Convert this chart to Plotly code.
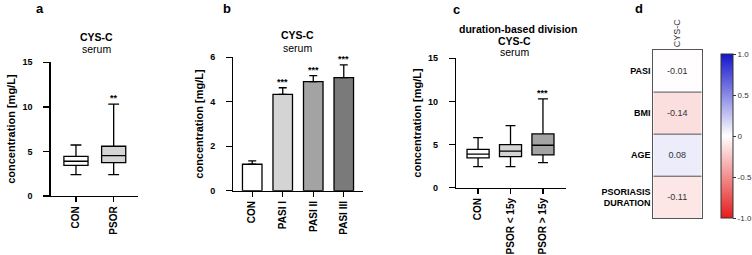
import plotly.graph_objects as go

W, H = 752, 255


def px(x):
    return x / W


def py(y):
    return 1 - y / H


# ---------------- data ----------------
# panel a: box plots (CYS-C serum)
a_groups = ["CON", "PSOR"]
a_min = [2.4, 2.4]
a_q1 = [3.44, 3.74]
a_med = [3.9, 4.52]
a_q3 = [4.45, 5.58]
a_max = [5.72, 10.3]
a_sig = ["", "**"]

# panel b: bar chart (mean + error)
b_groups = ["CON", "PASI I", "PASI II", "PASI III"]
b_mean = [1.19, 4.33, 4.91, 5.09]
b_err = [0.15, 0.30, 0.27, 0.57]
b_sig = ["", "***", "***", "***"]

# panel c: duration-based division box plots
c_groups = ["CON", "PSOR < 15y", "PSOR > 15y"]
c_min = [2.44, 2.44, 2.9]
c_q1 = [3.45, 3.6, 3.8]
c_med = [3.9, 4.25, 4.92]
c_q3 = [4.45, 5.0, 6.23]
c_max = [5.8, 7.2, 10.3]
c_sig = ["", "", "***"]

# panel d: correlation heatmap
d_rows = ["PASI", "BMI", "AGE", "PSORIASIS<br>DURATION"]
d_col = ["CYS-C"]
d_r = [-0.01, -0.14, 0.08, -0.11]
cb_vals = [-1, -0.5, 0, 0.5, 1]
cb_text = ["-1.0", "-0.5", "0", "0.5", "1.0"]

a_fill = ["#ffffff", "#d4d4d4"]
b_fill = ["#ffffff", "#d4d4d4", "#a3a3a3", "#7a7a7a"]
c_fill = ["#ffffff", "#d4d4d4", "#a3a3a3"]

FONT = "Liberation Sans, Arial, sans-serif"
LW = 1.3

fig = go.Figure()

# ---------- panel a ----------
for i, g in enumerate(a_groups):
    fig.add_trace(go.Box(
        x=[i], q1=[a_q1[i]], median=[a_med[i]], q3=[a_q3[i]],
        lowerfence=[a_min[i]], upperfence=[a_max[i]],
        width=0.64, whiskerwidth=0.45, fillcolor=a_fill[i],
        line=dict(color="black", width=LW), boxpoints=False,
        xaxis="x", yaxis="y", showlegend=False, hoverinfo="skip"))

# ---------- panel b ----------
fig.add_trace(go.Bar(
    x=list(range(len(b_groups))), y=b_mean, width=0.64,
    marker=dict(color=b_fill, line=dict(color="black", width=LW)),
    error_y=dict(type="data", array=b_err, arrayminus=[0] * len(b_err),
                 symmetric=False, color="black", thickness=LW, width=4),
    xaxis="x2", yaxis="y2", showlegend=False, hoverinfo="skip"))

# ---------- panel c ----------
for i, g in enumerate(c_groups):
    fig.add_trace(go.Box(
        x=[i], q1=[c_q1[i]], median=[c_med[i]], q3=[c_q3[i]],
        lowerfence=[c_min[i]], upperfence=[c_max[i]],
        width=0.68, whiskerwidth=0.45, fillcolor=c_fill[i],
        line=dict(color="black", width=LW), boxpoints=False,
        xaxis="x3", yaxis="y3", showlegend=False, hoverinfo="skip"))

# ---------- panel d ----------
fig.add_trace(go.Heatmap(
    z=[[v] for v in d_r], x=[0], y=list(range(len(d_rows))),
    zmin=-1, zmax=1,
    colorscale=[[0, "#e41c1c"], [0.5, "#ffffff"], [1, "#1414cc"]],
    texttemplate="%{z:.2f}", textfont=dict(size=9, color="#333333", family=FONT),
    xaxis="x4", yaxis="y4", hoverinfo="skip",
    colorbar=dict(
        x=px(721), xanchor="left", xpad=0, ypad=0,
        y=py(218.3), yanchor="bottom", len=(218.3 - 54.3) / H, lenmode="fraction",
        thickness=11.5, thicknessmode="pixels",
        outlinewidth=1, outlinecolor="#333333",
        tickvals=cb_vals, ticktext=cb_text, ticks="outside", ticklen=3,
        tickcolor="#333333", tickfont=dict(size=8, color="#333333", family=FONT),
    )))

for i in range(len(d_rows) - 1):
    fig.add_shape(type="line", xref="x4", yref="y4", x0=-0.5, x1=0.5,
                  y0=i + 0.5, y1=i + 0.5, line=dict(color="#555555", width=1))

# ---------- axes ----------
tickfont_b = dict(size=10, family=FONT, color="black", weight="bold")
numfont = dict(size=9, family=FONT, color="black", weight="bold")


def xax(domain, rng, groups):
    return dict(domain=domain, range=rng, tickvals=list(range(len(groups))),
                ticktext=groups, tickangle=-90, showline=True, linecolor="black",
                linewidth=LW, ticks="outside", ticklen=5, tickwidth=LW,
                tickcolor="black", showgrid=False, zeroline=False,
                tickfont=tickfont_b, fixedrange=True, automargin=False)


def yax(domain, rng, tv, anchor):
    return dict(domain=domain, range=rng, tickvals=tv, ticktext=[str(t) for t in tv],
                showline=True, linecolor="black", linewidth=LW, ticks="outside",
                ticklen=6, tickwidth=LW, tickcolor="black", showgrid=False,
                zeroline=False, tickfont=numfont, ticklabelstandoff=9,
                anchor=anchor, fixedrange=True, automargin=False,
                title=dict(text="concentration [mg/L]", standoff=4,
                           font=dict(size=11, family=FONT, color="black", weight="bold")))


fig.update_layout(
    width=W, height=H, margin=dict(l=0, r=0, t=0, b=0, autoexpand=False),
    paper_bgcolor="white", plot_bgcolor="white",
    font=dict(family=FONT, color="black"),
    xaxis=dict(xax([px(50.7), px(138)], [-0.67, 1.645], a_groups), anchor="y"),
    yaxis=yax([py(196), py(62.3)], [0, 15], [0, 5, 10, 15], "x"),
    xaxis2=dict(xax([px(233.3), px(363)], [-0.62, 3.63], b_groups), anchor="y2"),
    yaxis2=yax([py(190.7), py(57.3)], [0, 6], [0, 2, 4, 6], "x2"),
    xaxis3=dict(xax([px(456), px(566)], [-0.68, 2.71], c_groups), anchor="y3"),
    yaxis3=yax([py(187.7), py(58.3)], [0, 15], [0, 5, 10, 15], "x3"),
    xaxis4=dict(domain=[px(653.3), px(701.7)], range=[-0.5, 0.5], anchor="y4",
                side="top", tickangle=-90, tickvals=[0], ticktext=d_col,
                ticks="", showline=True, mirror=True, linecolor="#555555",
                linewidth=1, showgrid=False, zeroline=False, automargin=False,
                tickfont=dict(size=9, color="#333333", family=FONT), fixedrange=True),
    yaxis4=dict(domain=[py(218.3), py(50)], range=[len(d_rows) - 0.5, -0.5],
                anchor="x4", tickvals=list(range(len(d_rows))), ticktext=d_rows,
                ticks="", showline=True, mirror=True, linecolor="#555555",
                linewidth=1, showgrid=False, zeroline=False, automargin=False,
                tickfont=dict(size=9, color="black", family=FONT, weight="bold"),
                fixedrange=True),
)

# significance markers
for xs, ys, sig, xr, yr in [
    (range(len(a_groups)), a_max, a_sig, "x", "y"),
    (range(len(b_groups)), [m + e for m, e in zip(b_mean, b_err)], b_sig, "x2", "y2"),
    (range(len(c_groups)), c_max, c_sig, "x3", "y3"),
]:
    for xi, yi, s in zip(xs, ys, sig):
        if s:
            fig.add_annotation(x=xi, y=yi, xref=xr, yref=yr, text=s, showarrow=False,
                               yanchor="bottom", yshift=-1,
                               font=dict(size=9, family=FONT, color="black", weight="bold"))

# titles and panel letters
texts = [
    ("a", 39.7, 8.3, 13, "bold"),
    ("b", 226.7, 8.3, 13, "bold"),
    ("c", 456, 9.3, 13, "bold"),
    ("d", 639, 8, 13, "bold"),
    ("CYS-C", 96.3, 37.3, 10.5, "bold"),
    ("serum", 96.3, 49.3, 10.5, "normal"),
    ("CYS-C", 297, 35, 10.5, "bold"),
    ("serum", 297, 47.7, 10.5, "normal"),
    ("duration-based division", 518, 29.3, 10.5, "bold"),
    ("CYS-C", 514.5, 40.5, 10.5, "bold"),
    ("serum", 514.5, 52.3, 10.5, "normal"),
]
for t, x, y, s, w in texts:
    fig.add_annotation(x=px(x), y=py(y), xref="paper", yref="paper", text=t,
                       showarrow=False, xanchor="center", yanchor="middle",
                       font=dict(size=s, family=FONT, color="black", weight=w))

fig.write_html(
    "out.html",
    config={"displayModeBar": False, "staticPlot": True},
    post_script="document.body.style.margin='0';document.body.style.overflow='hidden';",
)
